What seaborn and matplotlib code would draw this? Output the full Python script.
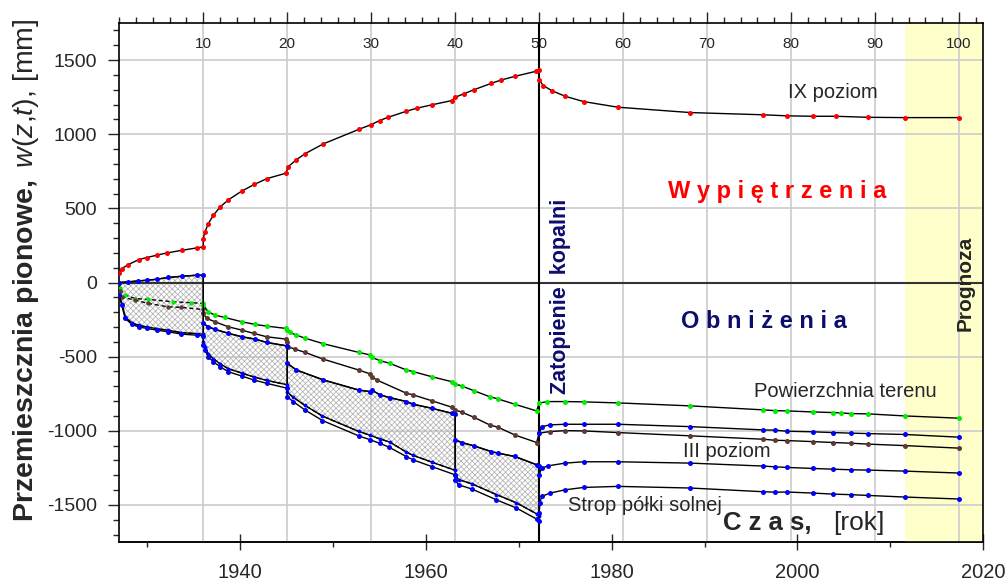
import numpy as np
import matplotlib
matplotlib.use("Agg")
import matplotlib.pyplot as plt
import seaborn as sns

# Time since the start of mining [years]; a repeated time marks a step change.
# IX poziom (uplift)
t_ix = np.array([0, 0.3, 1.07, 2.35, 3.26, 4.45, 5.64, 7.43, 9.2, 10.0, 10.0, 10.2, 10.6, 11.2,
                 12.0, 13.0, 14.6, 16.1, 17.55, 19.9, 20.05, 21.1, 22.1, 24.3, 28.5, 30.0, 31.0,
                 32.0, 34.2, 35.4, 37.2, 39.6, 40.0, 41.0, 42.2, 44.3, 45.5, 47.1, 49.6, 50.0,
                 50.0, 50.5, 51.5, 53.1, 55.3, 59.4, 68.0, 76.7, 79.5, 82.6, 85.3, 89.2, 93.6, 100])
w_ix = np.array([61, 94, 121, 155, 168, 184, 199, 217, 233, 240, 296, 341, 397, 453,
                 509, 558, 617, 662, 700, 738, 778, 828, 868, 935, 1032, 1065, 1092,
                 1114, 1155, 1175, 1198, 1227, 1249, 1272, 1299, 1343, 1366, 1390, 1424, 1433,
                 1366, 1328, 1294, 1256, 1220, 1182, 1146, 1131, 1124, 1121, 1121, 1114, 1112, 1112])

# Powierzchnia terenu: first mining stage (dashed) and the rest (solid)
t_pow0 = np.array([0, 0.05, 0.7, 1.9, 3.45, 6.4, 8.5, 10.0])
w_pow0 = np.array([0, -40, -85, -108, -114, -130, -136, -141])
t_pow = np.array([10.0, 10.6, 11.4, 12.6, 14.6, 16.2, 17.55, 19.9, 20.0, 20.3, 21.1, 22.1, 24.3,
                  28.5, 29.9, 30.06, 31.05, 32.2, 34.2, 35.0, 37.2, 39.6, 40.0, 40.8, 42.2, 44.1,
                  45.1, 47.1, 49.7, 50.0, 50.9, 53.1, 55.3, 59.4, 68.0, 76.7, 78.1, 79.5, 82.6,
                  85.0, 86.0, 87.2, 89.2, 93.6, 100])
w_pow = np.array([-153, -198, -220, -236, -265, -283, -294, -310, -321, -337, -355, -375, -413,
                  -471, -489, -505, -527, -545, -590, -601, -635, -669, -684, -698, -729, -770,
                  -785, -821, -866, -814, -803, -803, -805, -812, -832, -859, -864, -866, -873,
                  -877, -880, -884, -886, -900, -915])

# III poziom: first mining stage (dashed) and the rest (solid)
t_iii0 = np.array([0, 0.05, 0.3, 1.85, 3.45, 5.8, 7.4, 10.0])
w_iii0 = np.array([0, -60, -97, -119, -141, -164, -168, -182])
t_iii = np.array([10.0, 10.4, 11.4, 13.0, 14.6, 16.0, 17.55, 19.9, 20.0, 20.1, 20.9, 22.1, 24.3,
                  28.5, 29.9, 30.06, 30.65, 34.2, 35.0, 37.2, 39.6, 40.0, 40.8, 42.2, 44.1, 45.1,
                  47.1, 49.7, 50.0, 51.3, 53.1, 55.3, 59.4, 68.0, 76.7, 78.1, 79.5, 82.6, 85.0,
                  87.2, 89.2, 93.6, 100])
w_iii = np.array([-209, -242, -265, -299, -321, -343, -366, -382, -400, -433, -449, -471, -517,
                  -590, -617, -635, -657, -747, -758, -797, -841, -859, -875, -908, -960, -976,
                  -1028, -1079, -1016, -1005, -999, -1001, -1012, -1034, -1057, -1064, -1066,
                  -1073, -1079, -1084, -1090, -1100, -1117])

# Upper edge of the deformed salt band (blue), continued after flooding
t_top = np.array([0, 1.07, 2.26, 3.26, 4.45, 5.84, 7.43, 9.2, 10.0,
                  10.0, 10.6, 11.4, 13.0, 14.6, 16.2, 17.55, 20.0,
                  20.0, 21.1, 24.3, 28.5, 29.9, 30.06, 31.05, 32.2, 34.2, 35.0, 37.2, 39.6, 40.0,
                  40.0, 40.8, 42.2, 44.3, 45.1, 47.1, 49.7, 50.0,
                  50.0, 50.3, 51.1, 53.1, 55.3, 59.4, 68.0, 76.7, 78.1, 79.5, 82.6, 85.0, 87.2,
                  89.2, 93.6, 100])
w_top = np.array([0, 4, 11, 15, 22, 34, 42, 49, 49,
                  -276, -299, -316, -343, -366, -382, -404, -428,
                  -545, -590, -657, -725, -736, -725, -758, -776, -803, -821, -848, -882, -890,
                  -1061, -1079, -1101, -1140, -1151, -1173, -1229, -1235,
                  -1297, -1252, -1236, -1218, -1209, -1209, -1218, -1238, -1243, -1247, -1254,
                  -1259, -1263, -1265, -1272, -1285])

# Lower edge of the band (dashed), mining period only
t_bot = np.array([0, 0.3, 0.7, 1.5, 2.3, 3.3, 4.45, 5.8, 7.4, 9.2, 10.0,
                  10.0, 10.2, 10.6, 11.2, 12.0, 13.0, 14.6, 16.0, 17.55, 20.0,
                  20.0, 20.7, 22.1, 24.2, 28.5, 29.9, 31.05, 32.2, 34.2, 35.0, 37.2, 40.0,
                  40.0, 40.4, 42.0, 44.9, 47.3, 49.7, 50.0])
w_bot = np.array([-80, -143, -232, -273, -289, -300, -311, -322, -338, -345, -349,
                  -402, -436, -481, -514, -548, -582, -611, -637, -660, -690,
                  -740, -773, -829, -901, -1004, -1031, -1055, -1076, -1144, -1166, -1211, -1267,
                  -1295, -1329, -1358, -1430, -1486, -1560, -1576])

# Strop półki solnej
t_strop = np.array([0, 0.3, 0.7, 1.5, 2.3, 3.3, 4.45, 5.8, 7.4, 9.2, 10.0,
                    10.0, 10.2, 10.6, 11.2, 12.0, 13.0, 14.6, 16.0, 17.55, 20.0,
                    20.0, 20.7, 22.1, 24.2, 28.5, 29.9, 31.05, 32.1, 34.2, 35.0, 37.2, 40.0,
                    40.0, 40.4, 42.0, 44.9, 47.3, 49.7, 50.0,
                    50.0, 50.1, 50.3, 51.3, 53.1, 55.3, 59.4, 68.0, 76.7, 78.1, 79.5, 82.6,
                    85.0, 87.2, 89.2, 93.6, 100])
w_strop = np.array([-86, -153, -242, -283, -299, -310, -321, -332, -348, -355, -359,
                    -422, -456, -501, -534, -568, -602, -631, -657, -680, -713,
                    -770, -803, -859, -931, -1034, -1061, -1085, -1110, -1174, -1196, -1241, -1297,
                    -1330, -1364, -1393, -1465, -1521, -1595, -1611,
                    -1555, -1487, -1443, -1420, -1398, -1382, -1375, -1386, -1411, -1414, -1413,
                    -1420, -1427, -1431, -1436, -1447, -1460])

# Upper blue level after flooding
t_up = np.array([50.0, 50.3, 51.3, 53.1, 55.3, 59.4, 68.0, 76.7, 78.1, 79.5, 82.6, 85.0, 87.2,
                 89.2, 93.6, 100])
w_up = np.array([-1016, -972, -960, -956, -956, -956, -972, -994, -996, -1003, -1007, -1012,
                 -1016, -1019, -1025, -1043])

# Events and axis settings
t_flood = 50.0
t_forecast = 93.6
t_max = 102.9
year_start, year_end = 1927, 2020
top_ticks = np.arange(10, 101, 10)
year_ticks = [1940, 1960, 1980, 2000, 2020]
year_minor = [1930, 1950, 1970, 1990, 2010]

RED, GREEN, BROWN, BLUE = "#ff0000", "#00ee00", "#5e3a33", "#0000ff"
NAVY = "#0d0d6e"

sns.set_style("ticks")
plt.rcParams["font.family"] = ["Liberation Sans", "DejaVu Sans"]
plt.rcParams["axes.unicode_minus"] = False
plt.rcParams["mathtext.fontset"] = "custom"
plt.rcParams["mathtext.rm"] = "Liberation Sans"
plt.rcParams["mathtext.it"] = "Liberation Sans:italic"
plt.rcParams["mathtext.bf"] = "Liberation Sans:bold"
plt.rcParams["hatch.color"] = "#b4b4b4"
plt.rcParams["hatch.linewidth"] = 0.55

fig = plt.figure(figsize=(10.08, 5.83), dpi=100)
ax = fig.add_axes([119.3 / 1008, 41 / 583, 864 / 1008, 519 / 583])


def split_steps(t, w):
    """Split a series at its vertical steps (repeated times)."""
    cut = np.where(np.diff(t) == 0)[0] + 1
    return list(zip(np.split(t, cut), np.split(w, cut)))


# hatched band between the upper and lower edge for each mining stage
for (ta, wa), (tb, wb) in zip(split_steps(t_top, w_top), split_steps(t_bot, w_bot)):
    xs = np.concatenate([ta, tb[::-1]])
    ys = np.concatenate([wa, wb[::-1]])
    ax.fill(xs, ys, facecolor="none", edgecolor="#b4b4b4", hatch="xxxxxx", linewidth=0, zorder=1)
    ax.fill(xs, ys, fill=False, edgecolor="black", linewidth=1.0, zorder=1.5)


def trace(t, w, color, ls="-", ms=3.6, z=3):
    sns.lineplot(x=t, y=w, ax=ax, sort=False, estimator=None, color="black", linewidth=1.0,
                 linestyle=ls, marker="o", markersize=ms, markerfacecolor=color,
                 markeredgecolor=color, markeredgewidth=0, zorder=z)


trace(t_bot, w_bot, BLUE, ls=(0, (3, 2)), ms=2.8, z=2)
trace(t_pow0, w_pow0, GREEN, ls=(0, (3, 2)), ms=3.2)
trace(t_iii0, w_iii0, BROWN, ls=(0, (3, 2)), ms=3.2)
trace(t_ix, w_ix, RED)
trace(t_pow, w_pow, GREEN)
trace(t_iii, w_iii, BROWN)
trace(t_top, w_top, BLUE)
trace(t_strop, w_strop, BLUE)
trace(t_up, w_up, BLUE)

# forecast period, reference lines
ax.axvspan(t_forecast, t_max, color="#ffffcc", zorder=0.1, linewidth=0)
ax.axhline(0, color="#333333", linewidth=1.5, zorder=2)
ax.axvline(t_flood, color="black", linewidth=1.5, zorder=2)

ax.set_xlim(0, t_max)
ax.set_ylim(-1750, 1750)
ax.set_xlabel("")
ax.set_ylabel("")
ax.set_axisbelow(True)
ax.grid(True, which="major", color="#cccccc", linewidth=1.2)

# top axis: years since the start of mining
ax.xaxis.set_ticks_position("top")
ax.set_xticks(top_ticks)
ax.set_xticks(np.arange(0, 103, 2), minor=True)
ax.tick_params(axis="x", which="major", direction="out", length=8, width=1, pad=-28,
               labelsize=11, top=True, bottom=False, labeltop=True, labelbottom=False)
ax.tick_params(axis="x", which="minor", direction="out", length=4.3, width=1,
               top=True, bottom=False)

ax.set_yticks(np.arange(-1500, 1501, 500))
ax.set_yticks(np.arange(-1700, 1701, 100), minor=True)
ax.tick_params(axis="y", which="major", direction="out", length=8, width=1, pad=8,
               labelsize=14, right=False)
ax.tick_params(axis="y", which="minor", direction="out", length=4.3, width=1, right=False)

for s in ax.spines.values():
    s.set_visible(True)
    s.set_color("black")
    s.set_linewidth(1.2)

# bottom axis: calendar years
scale = (year_end - year_start) / t_max
secax = ax.secondary_xaxis("bottom", functions=(lambda t: year_start + t * scale,
                                                 lambda y: (y - year_start) / scale))
secax.set_xticks(year_ticks)
secax.set_xticks(year_minor, minor=True)
secax.tick_params(which="major", direction="inout", length=12, width=1, pad=9, labelsize=14.5)
secax.tick_params(which="minor", direction="out", length=3.5, width=1)
secax.spines["bottom"].set_linewidth(1.2)

# annotations
ax.text(85.0, 1245, "IX poziom", fontsize=14.5, ha="center", va="baseline")
ax.text(78.3, 572, "W y p i ę t r z e n i a", fontsize=17, fontweight="bold", color=RED,
        ha="center", va="baseline")
ax.text(76.8, -310, "O b n i ż e n i a", fontsize=17, fontweight="bold", color=NAVY,
        ha="center", va="baseline")
ax.text(86.5, -770, "Powierzchnia terenu", fontsize=14.5, ha="center", va="baseline")
ax.text(72.4, -1178, "III poziom", fontsize=14.5, ha="center", va="baseline")
ax.text(62.6, -1544, "Strop półki solnej", fontsize=14.5, ha="center", va="baseline")
ax.text(52.6, -92, "Zatopienie  kopalni", fontsize=15.5, fontweight="bold", color=NAVY,
        rotation=90, ha="center", va="center")
ax.text(100.7, -5, "Prognoza", fontsize=15, fontweight="bold", rotation=90,
        ha="center", va="center")
ax.text(71.9, -1667, "C z a s,", fontsize=18.5, fontweight="bold", ha="left", va="baseline")
ax.text(85.0, -1667, "[rok]", fontsize=19, ha="left", va="baseline")

fig.text(26 / 1008, 1 - 270 / 583,
         r"$\mathbf{Przemieszcznia\ pionowe,}\ w(z{,}t){,}\ \mathrm{[mm]}$",
         fontsize=20.5, rotation=90, ha="center", va="center")

fig.savefig("out.png", dpi=100)
